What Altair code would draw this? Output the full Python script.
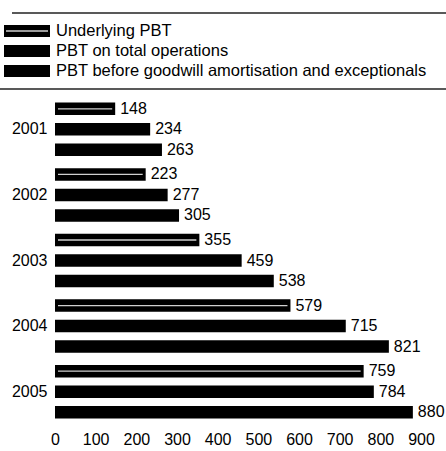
import altair as alt
import pandas as pd

# Profit before tax by year, £ million
years = ["2001", "2002", "2003", "2004", "2005"]
series = [
    "Underlying PBT",
    "PBT on total operations",
    "PBT before goodwill amortisation and exceptionals",
]
underlying = [148, 223, 355, 579, 759]
total_ops = [234, 277, 459, 715, 784]
before_gw = [263, 305, 538, 821, 880]
x_ticks = [0, 100, 200, 300, 400, 500, 600, 700, 800, 900]

rows = []
for i, yr in enumerate(years):
    for s, vals in zip(series, [underlying, total_ops, before_gw]):
        rows.append({"year": yr, "series": s, "value": vals[i]})
df = pd.DataFrame(rows)

FONT = "Liberation Sans"
W, H = 366, 328
TOP, LEFT = 96.5, 55

y_enc = alt.Y(
    "year:N",
    sort=years,
    scale=alt.Scale(paddingInner=0, paddingOuter=0),
    axis=alt.Axis(title=None, ticks=False, domain=False, labelPadding=8,
                  labelFontSize=16, labelFont=FONT, labelColor="black"),
)
y_off = alt.YOffset("series:N", sort=series,
                    scale=alt.Scale(paddingInner=0.39, paddingOuter=0.295))
x_enc = alt.X(
    "value:Q",
    scale=alt.Scale(domain=[0, 900], nice=False),
    axis=alt.Axis(values=x_ticks, title=None, grid=False, ticks=False, domain=False,
                  labelPadding=7, labelFontSize=16, labelFont=FONT,
                  labelColor="black", labelFlush=False),
)

base = alt.Chart(df)

bars = base.mark_bar(color="black").encode(x=x_enc, y=y_enc, yOffset=y_off)

# light streak through the underlying-PBT bars
streak = (
    base.transform_filter(alt.datum.series == series[0])
    .mark_bar(color="#d0d0d0", size=1.3, xOffset=-3, x2Offset=3)
    .encode(x="value:Q", x2=alt.datum(0), y="year:N", yOffset=y_off)
)

labels = base.mark_text(
    align="left", baseline="middle", dx=5, fontSize=16, font=FONT, color="black"
).encode(x="value:Q", y="year:N", yOffset=y_off, text="value:Q")

# legend drawn above the plot, between two rules
one = pd.DataFrame({"k": [0]})
legend_layers = []
for i, s in enumerate(series):
    cy = 31 + 20 * i - TOP
    sw = alt.Chart(one).mark_rect(color="black").encode(
        x=alt.value(4 - LEFT), x2=alt.value(50 - LEFT),
        y=alt.value(cy - 6), y2=alt.value(cy + 6),
    )
    legend_layers.append(sw)
    if i == 0:
        legend_layers.append(
            alt.Chart(one).mark_rect(color="#d0d0d0").encode(
                x=alt.value(6 - LEFT), x2=alt.value(48 - LEFT),
                y=alt.value(cy - 0.7), y2=alt.value(cy + 0.7),
            )
        )
    legend_layers.append(
        alt.Chart(pd.DataFrame({"series": [s]})).mark_text(
            align="left", baseline="middle", fontSize=16.5, font=FONT, color="black"
        ).encode(x=alt.value(56 - LEFT), y=alt.value(cy), text="series:N")
    )

top_rule = alt.Chart(one).mark_rule(color="#222", strokeWidth=1.3).encode(
    x=alt.value(12 - LEFT), x2=alt.value(446 - LEFT), y=alt.value(13 - TOP)
)
bottom_rule = alt.Chart(one).mark_rule(color="#222", strokeWidth=1.3).encode(
    x=alt.value(0 - LEFT), x2=alt.value(446 - LEFT), y=alt.value(89 - TOP)
)

chart = (
    alt.layer(bars, streak, labels, top_rule, bottom_rule, *legend_layers)
    .properties(
        width=W,
        height=H,
        autosize=alt.AutoSizeParams(type="none"),
        padding={"left": LEFT, "top": TOP, "right": 446 - LEFT - W, "bottom": 451 - TOP - H},
        background="white",
    )
    .configure_view(stroke=None)
)

chart.save("out.html", embed_options={"renderer": "svg", "actions": False})
